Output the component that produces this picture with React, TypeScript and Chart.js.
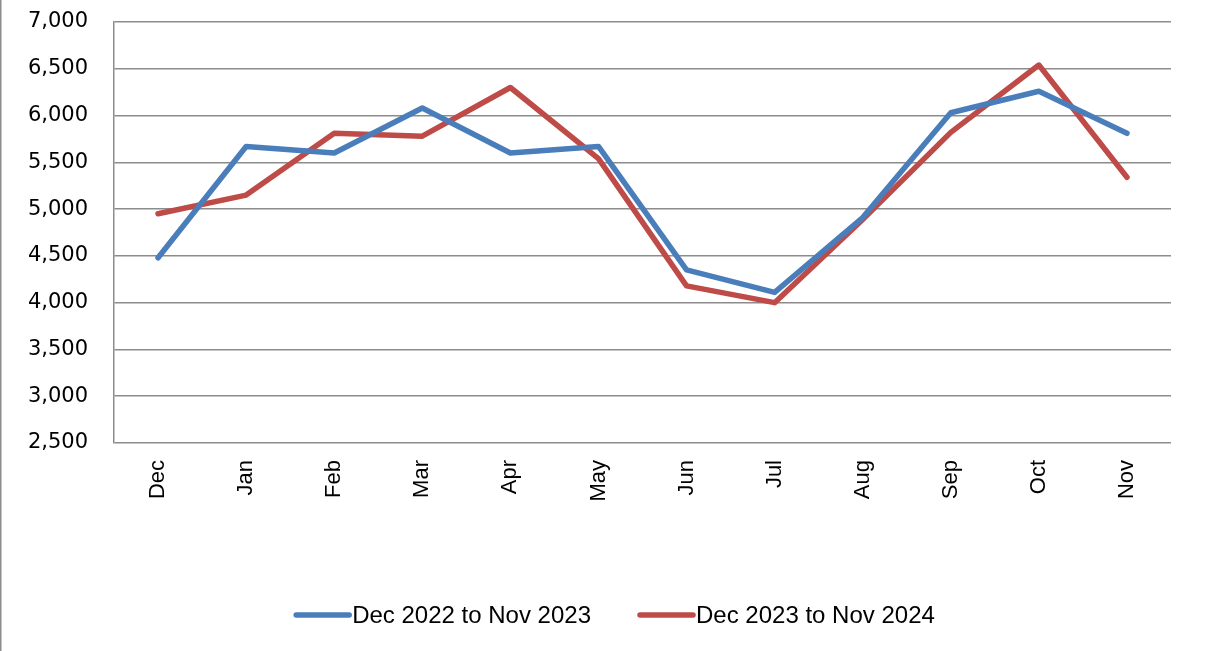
import React, { useEffect, useRef } from "react";
import { Chart, registerables } from "chart.js";

Chart.register(...registerables);

const categories = ["Dec", "Jan", "Feb", "Mar", "Apr", "May", "Jun", "Jul", "Aug", "Sep", "Oct", "Nov"];
const series1Label = "Dec 2022 to Nov 2023";
const series1Values = [4480, 5670, 5600, 6080, 5600, 5670, 4350, 4110, 4910, 6030, 6260, 5810];
const series2Label = "Dec 2023 to Nov 2024";
const series2Values = [4950, 5150, 5810, 5780, 6300, 5540, 4180, 4000, 4890, 5820, 6540, 5340];
const yMin = 2500;
const yMax = 7000;
const yStep = 500;

const LEGEND_FONT = "24px 'Liberation Sans', Arial, sans-serif";

const frameBorder = {
  id: "frameBorder",
  beforeDraw(chart: any) {
    const ctx = chart.ctx;
    ctx.save();
    ctx.fillStyle = "#ffffff";
    ctx.fillRect(0, 0, chart.width, chart.height);
    ctx.strokeStyle = "#8c8c8c";
    ctx.lineWidth = 1.5;
    ctx.beginPath();
    ctx.moveTo(0.75, 0);
    ctx.lineTo(0.75, chart.height);
    ctx.stroke();
    ctx.restore();
  },
};

// Legend drawn from the datasets (line sample followed directly by its label)
const bottomLegend = {
  id: "bottomLegend",
  afterDraw(chart: any) {
    const ctx = chart.ctx;
    const sample = 59;
    const gap = 46;
    const y = 615;
    ctx.save();
    ctx.font = LEGEND_FONT;
    const items = chart.data.datasets.map((d: any) => ({
      label: d.label,
      color: d.borderColor,
      w: ctx.measureText(d.label).width,
    }));
    const total = items.reduce((a: number, it: any) => a + sample + it.w, 0) + gap * (items.length - 1);
    let x = 614 - total / 2;
    items.forEach((it: any) => {
      ctx.strokeStyle = it.color;
      ctx.lineWidth = 5.5;
      ctx.lineCap = "round";
      ctx.beginPath();
      ctx.moveTo(x + 3, y);
      ctx.lineTo(x + sample - 3, y);
      ctx.stroke();
      ctx.fillStyle = "#000";
      ctx.textBaseline = "middle";
      ctx.textAlign = "left";
      ctx.fillText(it.label, x + sample, y + 1);
      x += sample + it.w + gap;
    });
    ctx.restore();
  },
};

export default function App() {
  const ref = useRef<HTMLCanvasElement>(null);
  useEffect(() => {
    const chart = new Chart(ref.current!, {
      type: "line",
      data: {
        labels: categories,
        datasets: [
          {
            label: series1Label,
            data: series1Values,
            borderColor: "#4A7EBB",
            backgroundColor: "#4A7EBB",
            borderWidth: 5.5,
            pointRadius: 0,
            borderCapStyle: "round",
            borderJoinStyle: "round",
            tension: 0,
          },
          {
            label: series2Label,
            data: series2Values,
            borderColor: "#BE4B48",
            backgroundColor: "#BE4B48",
            borderWidth: 5.5,
            pointRadius: 0,
            borderCapStyle: "round",
            borderJoinStyle: "round",
            tension: 0,
          },
        ],
      },
      options: {
        animation: false,
        responsive: false,
        maintainAspectRatio: false,
        layout: { padding: { left: 0, top: 22, right: 34, bottom: 95 } },
        plugins: {
          tooltip: { enabled: false },
          legend: { display: false },
        },
        scales: {
          x: {
            offset: true,
            grid: { display: false },
            border: { display: false },
            ticks: {
              minRotation: 90,
              maxRotation: 90,
              padding: 9,
              color: "#000",
              font: { family: "'Liberation Sans', Arial, sans-serif", size: 22 },
            },
            afterFit: (s: any) => {
              s.height = 113;
            },
          },
          y: {
            min: yMin,
            max: yMax,
            grid: { color: "#8c8c8c", lineWidth: 1.5, drawTicks: false },
            border: { display: true, color: "#8c8c8c", width: 1.5 },
            ticks: {
              stepSize: yStep,
              padding: 26,
              color: "#000",
              font: { family: "'DejaVu Sans', sans-serif", size: 21 },
              callback: (v: any) => Number(v).toLocaleString("en-US"),
            },
            afterFit: (s: any) => {
              s.width = 114;
              s.paddingTop = 0;
              s.paddingBottom = 0;
            },
          },
        },
      },
      plugins: [frameBorder, bottomLegend],
    });
    return () => chart.destroy();
  }, []);
  return (
    <div style={{ position: "absolute", left: 0, top: 0, width: 1205, height: 651 }}>
      <canvas ref={ref} width={1205} height={651} style={{ width: 1205, height: 651 }} />
    </div>
  );
}
